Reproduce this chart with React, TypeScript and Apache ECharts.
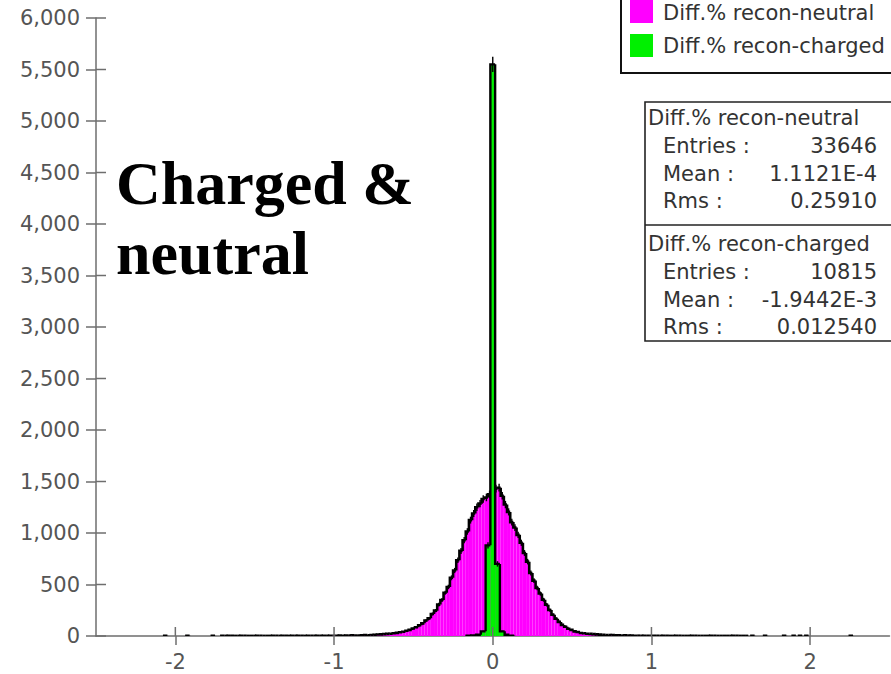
import React, { useEffect, useRef } from "react";
import * as echarts from "echarts";

// ---- data ----
const X_MIN = -2.5;
const X_MAX = 2.5;
const xTicks = [-2, -1, 0, 1, 2];
const yTicks = [0, 500, 1000, 1500, 2000, 2500, 3000, 3500, 4000, 4500, 5000, 5500, 6000];
const yMax = 6000;
const yStep = 500;

// neutral: bin width 0.02, bin centers from -1.70 to 1.60
const neutralBin = 0.02;
const neutralStart = -1.7;
const neutralCounts = [
  1, 1, 2, 1, 1, 1, 2, 1, 1, 1,
  1, 2, 1, 1, 1, 1, 2, 1, 1, 2,
  1, 1, 2, 1, 2, 1, 1, 2, 2, 1,
  2, 1, 2, 2, 3,
  3, 2, 4, 3, 5, 4, 6, 5, 4, 6,
  9, 8, 10, 12, 14, 16, 18, 21, 22, 27,
  30, 36, 41, 51, 59, 73, 85, 104, 123, 150,
  172, 214, 246, 305, 350, 420, 476, 565, 636, 735,
  826, 930, 1015, 1125, 1190, 1250, 1285, 1330, 1345, 1375,
  1392,
  1430, 1440, 1362, 1276, 1205, 1106, 1053, 982, 905, 806,
  722, 612, 538, 466, 412, 352, 303, 252, 207, 168,
  137, 108, 90, 70, 59, 45, 39, 29, 27, 22,
  21, 18, 16, 13, 12, 10, 9, 10, 7, 8,
  5, 6, 4, 5, 3, 3, 2, 3, 2, 2,
  2, 1, 1, 2, 1, 1, 1, 2, 1, 1,
  1, 1, 2, 1, 1, 1, 1, 1, 2, 1,
  1, 1, 1, 1, 1, 2, 1, 1, 1, 1,
];
const neutralIsolated: [number, number][] = [
  [-2.06, 1], [-1.92, 1], [-1.76, 1],
  [1.64, 1], [1.72, 1], [1.84, 1], [1.9, 1], [1.94, 1], [1.98, 1], [2.26, 1],
];

// charged: bin width 0.03, bin centers from -0.15 to 0.12
const chargedBin = 0.03;
const chargedStart = -0.15;
const chargedCounts = [3, 6, 12, 45, 880, 5550, 700, 45, 12, 4];
const chargedIsolated: [number, number][] = [];

const legendNames = ["Diff.% recon-neutral", "Diff.% recon-charged"];
const statLabels = ["Entries :", "Mean :", "Rms :"];
const neutralStats = ["33646", "1.1121E-4", "0.25910"];
const chargedStats = ["10815", "-1.9442E-3", "0.012540"];
const annotation = ["Charged &", "neutral"];

const MAGENTA = "#ff00ff";
const GREEN = "#00f000";
const FONT = '"DejaVu Sans", sans-serif';
const AXIS_COLOR = "#6e6e6e";
const LABEL_COLOR = "#555";

const W = 891;
const H = 674;

function toBins(w: number, start: number, counts: number[], isolated: [number, number][]) {
  const kMin = Math.ceil(X_MIN / w - 1e-9);
  const kMax = Math.floor(X_MAX / w + 1e-9);
  const n = kMax - kMin + 1;
  const arr: number[] = new Array(n).fill(0);
  const i0 = Math.round(start / w) - kMin;
  counts.forEach((c, k) => {
    arr[i0 + k] = c;
  });
  isolated.forEach(([x, c]) => {
    arr[Math.round(x / w) - kMin] = c;
  });
  const items: number[][] = [];
  for (let i = 0; i < n; i++) {
    const c = (kMin + i) * w;
    items.push([c - w / 2, c + w / 2, arr[i], i > 0 ? arr[i - 1] : 0]);
  }
  const cEnd = (kMax + 1) * w;
  items.push([cEnd - w / 2, cEnd + w / 2, 0, arr[n - 1]]);
  return items;
}

function fillSeries(items: number[][], color: string) {
  return {
    type: "custom",
    coordinateSystem: "cartesian2d",
    clip: true,
    silent: true,
    encode: { x: [0, 1], y: 2 },
    data: items.filter((d) => d[2] > 0),
    renderItem: (_p: any, api: any) => {
      const l = api.value(0);
      const r = api.value(1);
      const v = api.value(2);
      const tl = api.coord([l, v]);
      const br = api.coord([r, 0]);
      return {
        type: "rect",
        shape: { x: tl[0], y: tl[1], width: br[0] - tl[0], height: br[1] - tl[1] },
        style: { fill: color, stroke: null },
      };
    },
  };
}

function outlineSeries(items: number[][], lw: number, ebWidth: number) {
  return {
    type: "custom",
    coordinateSystem: "cartesian2d",
    clip: true,
    silent: true,
    encode: { x: [0, 1], y: 2 },
    data: items.filter((d) => d[2] > 0 || d[3] > 0),
    renderItem: (_p: any, api: any) => {
      const l = api.value(0);
      const r = api.value(1);
      const v = api.value(2);
      const p = api.value(3);
      const children: any[] = [];
      let pts: number[][];
      if (v > 0) {
        pts = [api.coord([l, p]), api.coord([l, v]), api.coord([r, v])];
      } else {
        pts = [api.coord([l, p]), api.coord([l, 0])];
      }
      children.push({
        type: "polyline",
        shape: { points: pts },
        style: { stroke: "#000", lineWidth: lw, fill: null, lineJoin: "miter" },
      });
      if (v > 0) {
        const e = Math.sqrt(v);
        const c = (l + r) / 2;
        const a = api.coord([c, v + e]);
        const b = api.coord([c, Math.max(0, v - e)]);
        children.push({
          type: "line",
          shape: { x1: a[0], y1: a[1], x2: b[0], y2: b[1] },
          style: { stroke: "#000", lineWidth: ebWidth },
        });
      }
      return { type: "group", children };
    },
  };
}

export default function App() {
  const ref = useRef<HTMLDivElement>(null);

  useEffect(() => {
    if (!ref.current) return;
    const chart = echarts.init(ref.current, null, { renderer: "svg" });
    const neutralItems = toBins(neutralBin, neutralStart, neutralCounts, neutralIsolated);
    const chargedItems = toBins(chargedBin, chargedStart, chargedCounts, chargedIsolated);

    const graphics: any[] = [];
    // legend box
    graphics.push({
      type: "rect",
      shape: { x: 621, y: -10, width: 300, height: 83 },
      style: { fill: "#fff", stroke: "#111", lineWidth: 2 },
      z: 10,
    });
    [MAGENTA, GREEN].forEach((col, i) => {
      graphics.push({
        type: "rect",
        shape: { x: 630, y: 0 + i * 34, width: 23, height: 23 },
        style: { fill: col },
        z: 11,
      });
      graphics.push({
        type: "text",
        x: 663,
        y: 13 + i * 33,
        style: {
          text: legendNames[i],
          font: `21px ${FONT}`,
          fill: "#333",
          textAlign: "left",
          textVerticalAlign: "middle",
        },
        z: 11,
      });
    });
    // stats box
    graphics.push({
      type: "rect",
      shape: { x: 645, y: 102, width: 260, height: 239 },
      style: { fill: "#fff", stroke: "#222", lineWidth: 1.6 },
      z: 10,
    });
    graphics.push({
      type: "line",
      shape: { x1: 645, y1: 225, x2: 891, y2: 225 },
      style: { stroke: "#222", lineWidth: 1.6 },
      z: 11,
    });
    const blocks = [
      { title: legendNames[0], vals: neutralStats, y0: 118 },
      { title: legendNames[1], vals: chargedStats, y0: 244 },
    ];
    blocks.forEach((b) => {
      graphics.push({
        type: "text",
        x: 648,
        y: b.y0,
        style: { text: b.title, font: `21px ${FONT}`, fill: "#333", textAlign: "left", textVerticalAlign: "middle" },
        z: 11,
      });
      statLabels.forEach((lab, k) => {
        const y = b.y0 + 28 + k * 27.7;
        graphics.push({
          type: "text",
          x: 663,
          y,
          style: { text: lab, font: `21px ${FONT}`, fill: "#333", textAlign: "left", textVerticalAlign: "middle" },
          z: 11,
        });
        graphics.push({
          type: "text",
          x: 877,
          y,
          style: { text: b.vals[k], font: `21px ${FONT}`, fill: "#333", textAlign: "right", textVerticalAlign: "middle" },
          z: 11,
        });
      });
    });
    // annotation
    annotation.forEach((t, i) => {
      graphics.push({
        type: "text",
        x: 116,
        y: 183 + i * 70,
        style: {
          text: t,
          font: 'bold 62px "Liberation Serif", "Times New Roman", serif',
          fill: "#000",
          textAlign: "left",
          textVerticalAlign: "middle",
        },
        z: 11,
      });
    });

    chart.setOption({
      animation: false,
      backgroundColor: "#fff",
      grid: {
        left: 96,
        right: 1.5,
        top: 18,
        bottom: 38,
        containLabel: false,
        outerBoundsMode: "none",
      },
      xAxis: {
        type: "value",
        min: X_MIN,
        max: X_MAX,
        position: "bottom",
        splitLine: { show: false },
        axisLine: { show: true, onZero: false, lineStyle: { color: AXIS_COLOR, width: 1.5 } },
        axisTick: {
          show: true,
          inside: false,
          length: 9,
          customValues: xTicks,
          lineStyle: { color: AXIS_COLOR, width: 1.5 },
        },
        axisLabel: {
          show: true,
          customValues: xTicks,
          margin: 15,
          fontSize: 21,
          fontFamily: FONT,
          color: LABEL_COLOR,
          formatter: (v: number) => String(v),
        },
      },
      yAxis: {
        type: "value",
        min: 0,
        max: yMax,
        interval: yStep,
        position: "left",
        splitLine: { show: false },
        axisLine: { show: true, onZero: false, lineStyle: { color: AXIS_COLOR, width: 1.5 } },
        axisTick: { show: true, inside: false, length: 10, lineStyle: { color: AXIS_COLOR, width: 1.5 } },
        axisLabel: {
          show: true,
          margin: 16,
          fontSize: 21,
          fontFamily: FONT,
          color: LABEL_COLOR,
          padding: [4, 0, 0, 0],
          formatter: (v: number) => v.toLocaleString("en-US"),
        },
      },
      series: [
        fillSeries(neutralItems, MAGENTA),
        outlineSeries(neutralItems, 2.6, 1.4),
        fillSeries(chargedItems, GREEN),
        outlineSeries(chargedItems, 2.4, 1.4),
      ],
      graphic: graphics,
    });

    // inner halves of the crossing axis ticks, located through the axes' own scales
    const tickEls: any[] = [];
    xTicks.forEach((x) => {
      const p = chart.convertToPixel({ gridIndex: 0 }, [x, 0]) as number[];
      if (!p) return;
      tickEls.push({
        type: "line",
        shape: { x1: p[0], y1: p[1], x2: p[0], y2: p[1] - 9 },
        style: { stroke: AXIS_COLOR, lineWidth: 1.5 },
        z: 12,
      });
    });
    yTicks.forEach((y) => {
      const p = chart.convertToPixel({ gridIndex: 0 }, [X_MIN, y]) as number[];
      if (!p) return;
      tickEls.push({
        type: "line",
        shape: { x1: p[0], y1: p[1], x2: p[0] + 10, y2: p[1] },
        style: { stroke: AXIS_COLOR, lineWidth: 1.5 },
        z: 12,
      });
    });
    chart.setOption({ graphic: [...graphics, ...tickEls] });

    return () => chart.dispose();
  }, []);

  return (
    <div
      ref={ref}
      style={{ position: "fixed", left: 0, top: 0, width: W, height: H, background: "#fff" }}
    />
  );
}
